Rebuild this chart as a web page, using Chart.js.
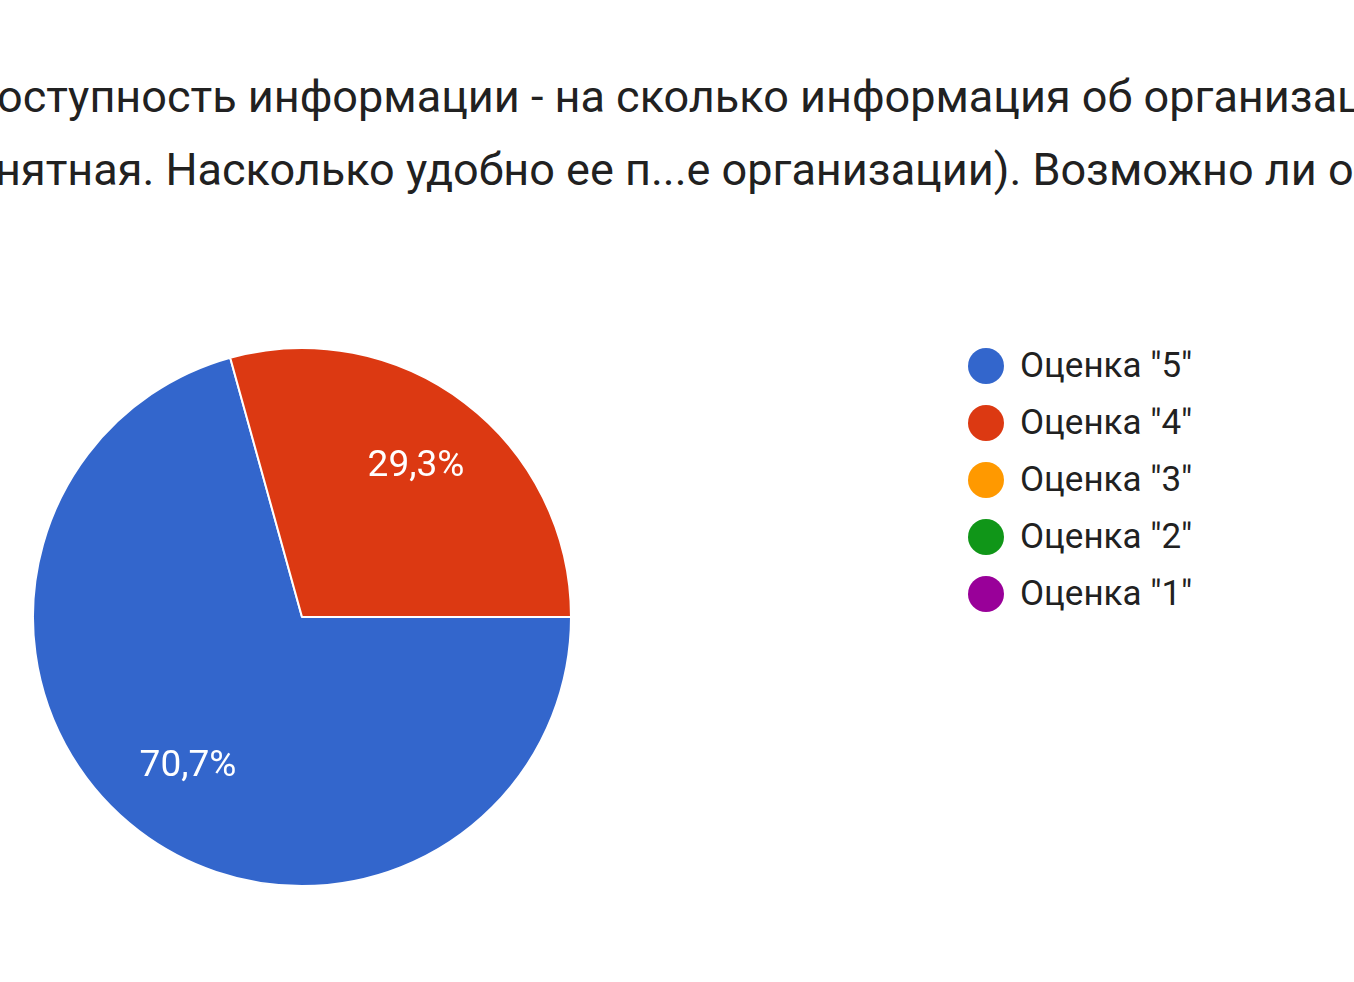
<!DOCTYPE html>
<html>
<head>
<meta charset="utf-8">
<script src="https://cdn.jsdelivr.net/npm/chart.js"></script>
<style>
  body { margin: 0; width: 1354px; height: 982px; background: #fff; overflow: hidden; position: relative; font-family: Roboto, sans-serif; }
  .title { position: absolute; white-space: nowrap; font-size: 45px; color: #212121; line-height: 54px; }
  #wrap { position: absolute; left: 32px; top: 347px; width: 540px; height: 540px; }
  .legend { position: absolute; left: 968px; top: 337px; }
  .item { height: 57px; display: flex; align-items: center; font-size: 35px; color: #212121; }
  .dot { width: 36px; height: 36px; border-radius: 50%; margin-right: 16px; }
</style>
</head>
<body>
<div class="title" style="left:-3px; top:70px;">оступность информации - на сколько информация об организации</div>
<div class="title" style="left:-5px; top:143px;">нятная. Насколько удобно ее п...е организации). Возможно ли оценить</div>
<div id="wrap"><canvas id="c"></canvas></div>
<div class="legend" id="legend"></div>
<script>
const categories = ['Оценка "5"', 'Оценка "4"', 'Оценка "3"', 'Оценка "2"', 'Оценка "1"'];
const shares = [70.7, 29.3, 0, 0, 0];
const colors = ["#3366cc", "#dc3912", "#ff9900", "#109618", "#990099"];

const legend = document.getElementById("legend");
categories.forEach((name, i) => {
  const row = document.createElement("div");
  row.className = "item";
  row.innerHTML = `<span class="dot" style="background:${colors[i]}"></span>${name}`;
  legend.appendChild(row);
});

// percent labels placed at 70% of the radius, like Google Forms
const sliceLabels = {
  id: "sliceLabels",
  afterDatasetsDraw(chart) {
    const ctx = chart.ctx;
    const meta = chart.getDatasetMeta(0);
    ctx.save();
    ctx.font = "37px Roboto, sans-serif";
    ctx.fillStyle = "#fff";
    ctx.textAlign = "center";
    ctx.textBaseline = "middle";
    meta.data.forEach((arc, i) => {
      if (!shares[i]) return;
      const mid = (arc.startAngle + arc.endAngle) / 2;
      const r = arc.outerRadius * 0.7;
      ctx.fillText(shares[i].toFixed(1).replace(".", ",") + "%", arc.x + Math.cos(mid) * r, arc.y + Math.sin(mid) * r);
    });
    ctx.restore();
  }
};

new Chart(document.getElementById("c"), {
  type: "pie",
  data: {
    labels: categories,
    datasets: [{ data: shares, backgroundColor: colors, borderColor: "#fff", borderWidth: 2 }]
  },
  options: {
    responsive: true,
    maintainAspectRatio: false,
    animation: false,
    rotation: 90,
    plugins: { legend: { display: false }, tooltip: { enabled: false } }
  },
  plugins: [sliceLabels]
});
</script>
</body>
</html>
